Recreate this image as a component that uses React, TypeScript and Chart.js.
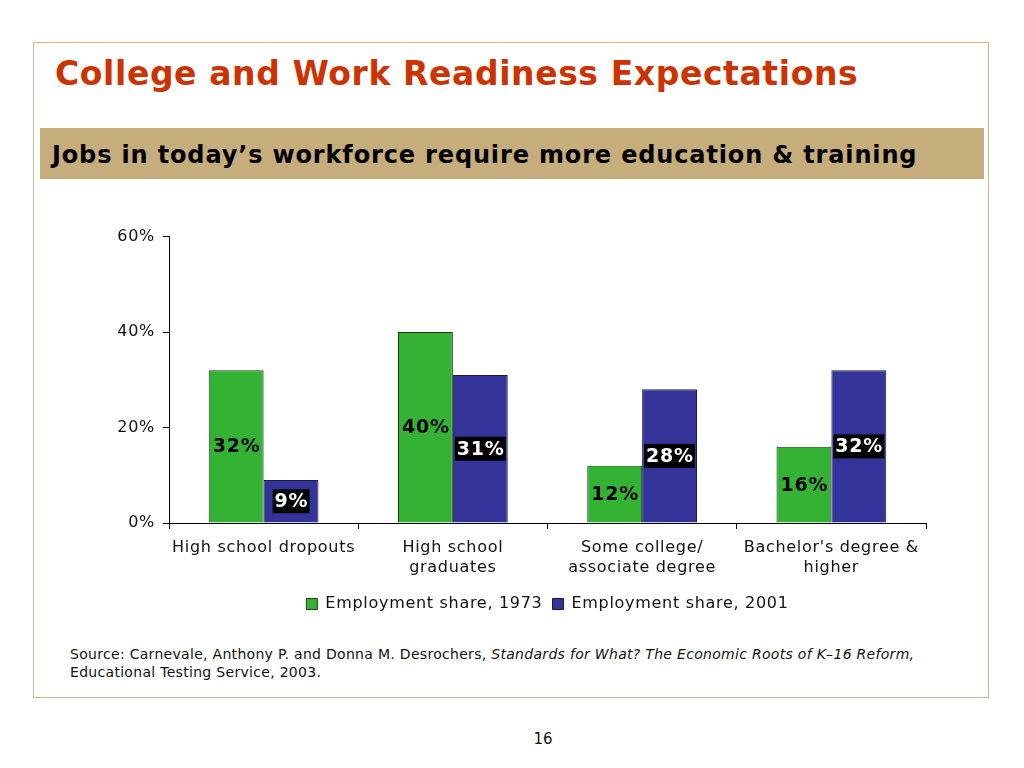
import React, { useEffect, useRef } from "react";
import { Chart, registerables } from "chart.js";

Chart.register(...registerables);

const categories: string[][] = [
  ["High school dropouts"],
  ["High school", "graduates"],
  ["Some college/", "associate degree"],
  ["Bachelor's degree &", "higher"],
];
const share1973: number[] = [32, 40, 12, 16];
const share2001: number[] = [9, 31, 28, 32];
const seriesNames: string[] = ["Employment share, 1973", "Employment share, 2001"];
const yTicks: number[] = [0, 20, 40, 60];

const FONT = "'DejaVu Sans', Verdana, sans-serif";

const spacingPlugin = {
  id: "spacing",
  beforeUpdate(chart: any) {
    chart.ctx.letterSpacing = "0.7px";
  },
  beforeDraw(chart: any) {
    chart.ctx.letterSpacing = "0.7px";
  },
};

const labelPlugin = {
  id: "barLabels",
  afterDatasetsDraw(chart: any) {
    const ctx = chart.ctx;
    ctx.save();
    ctx.letterSpacing = "0.8px";
    ctx.font = `bold 19px ${FONT}`;
    ctx.textAlign = "center";
    ctx.textBaseline = "middle";
    chart.data.datasets.forEach((ds: any, di: number) => {
      const meta = chart.getDatasetMeta(di);
      meta.data.forEach((bar: any, i: number) => {
        const txt = `${ds.data[i]}%`;
        const x = bar.x;
        const y = (bar.y + bar.base) / 2;
        if (di === 1) {
          const w = ctx.measureText(txt).width + 3;
          ctx.fillStyle = "#000";
          ctx.fillRect(x - w / 2, y - 12, w, 24);
          ctx.fillStyle = "#fff";
        } else {
          ctx.fillStyle = "#000";
        }
        ctx.fillText(txt, x + 0.4, y + 1);
      });
    });
    ctx.restore();
  },
};

function BarChart() {
  const ref = useRef<HTMLCanvasElement | null>(null);
  useEffect(() => {
    if (!ref.current) return;
    const chart = new Chart(ref.current, {
      type: "bar",
      data: {
        labels: categories,
        datasets: [
          {
            label: seriesNames[0],
            data: share1973,
            backgroundColor: "#33b233",
            borderColor: "#1f3a1f",
            borderWidth: 1,
          },
          {
            label: seriesNames[1],
            data: share2001,
            backgroundColor: "#333399",
            borderColor: "#1a1a40",
            borderWidth: 1,
          },
        ],
      },
      plugins: [spacingPlugin, labelPlugin],
      options: {
        responsive: false,
        animation: false,
        layout: { padding: { top: 16, right: 0, left: 0, bottom: 0 } },
        datasets: { bar: { categoryPercentage: 0.58, barPercentage: 1 } },
        plugins: {
          tooltip: { enabled: false },
          legend: {
            position: "bottom",
            labels: {
              font: { family: FONT, size: 16 },
              color: "#111",
              boxWidth: 11,
              boxHeight: 11,
              padding: 10,
            },
          },
        },
        scales: {
          x: {
            grid: { drawOnChartArea: false, tickLength: 6, color: "#000" },
            border: { color: "#000" },
            ticks: {
              font: { family: FONT, size: 16, lineHeight: 1.3 },
              color: "#111",
              padding: 8,
              maxRotation: 0,
            },
            afterFit: (s: any) => {
              s.height = 63;
            },
          },
          y: {
            min: 0,
            max: 60,
            afterBuildTicks: (s: any) => {
              s.ticks = yTicks.map((v) => ({ value: v }));
            },
            grid: { drawOnChartArea: false, tickLength: 6, color: "#000" },
            border: { color: "#000" },
            ticks: {
              font: { family: FONT, size: 16 },
              color: "#111",
              padding: 8,
              callback: (v: any) => `${v}%`,
            },
            afterFit: (s: any) => {
              s.width = 69;
            },
          },
          ySpacer: {
            position: "right",
            display: true,
            min: 0,
            max: 60,
            grid: { display: false, drawTicks: false },
            border: { display: false },
            ticks: { display: false },
            afterFit: (s: any) => {
              s.width = 69;
            },
          },
        },
      },
    } as any);
    return () => chart.destroy();
  }, []);
  return <canvas ref={ref} width={895} height={403} style={{ position: "absolute", left: 100, top: 219, width: 895, height: 403 }} />;
}

export default function App() {
  return (
    <div style={{ position: "relative", width: 1024, height: 768, margin: -8, background: "#fff", fontFamily: FONT, overflow: "hidden" }}>
      <div style={{ position: "absolute", left: 33, top: 42, width: 956, height: 656, border: "1px solid #dcb088", boxSizing: "border-box" }} />
      <div style={{ position: "absolute", left: 55, top: 54, fontSize: 33, letterSpacing: "0.6px", fontWeight: "bold", color: "#cc3300", whiteSpace: "nowrap" }}>
        College and Work Readiness Expectations
      </div>
      <div style={{ position: "absolute", left: 40, top: 128, width: 944, height: 51, background: "#c5ad7c" }} />
      <div style={{ position: "absolute", left: 52, top: 141, fontSize: 24, letterSpacing: "0.85px", fontWeight: "bold", color: "#000", whiteSpace: "nowrap" }}>
        Jobs in today’s workforce require more education &amp; training
      </div>
      <BarChart />
      <div style={{ position: "absolute", left: 70, top: 645, fontSize: 14, letterSpacing: "0.3px", lineHeight: "18px", color: "#111", whiteSpace: "nowrap" }}>
        Source: Carnevale, Anthony P. and Donna M. Desrochers, <i>Standards for What? The Economic Roots of K–16 Reform,</i>
        <br />
        Educational Testing Service, 2003.
      </div>
      <div style={{ position: "absolute", left: 0, width: 1086, top: 730, textAlign: "center", fontSize: 15, color: "#111" }}>16</div>
    </div>
  );
}
